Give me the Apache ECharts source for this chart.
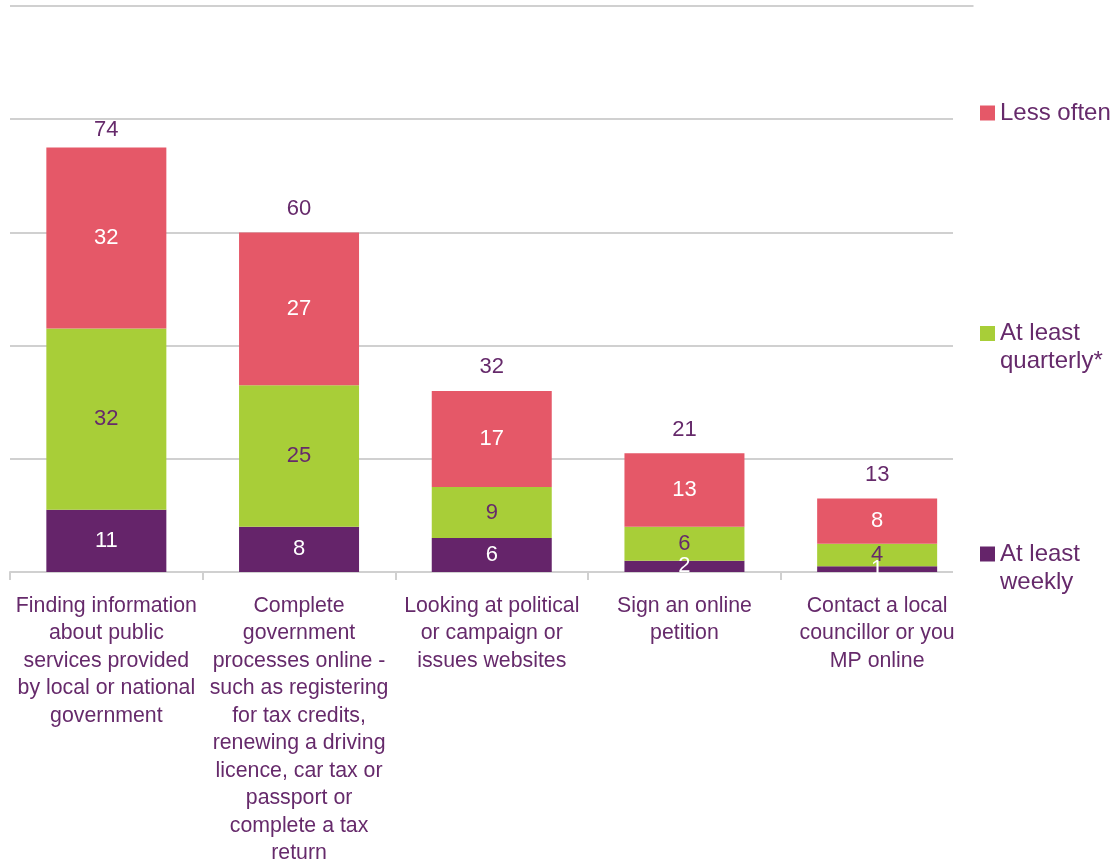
<!DOCTYPE html>
<html>
<head>
<meta charset="utf-8">
<script src="https://cdn.jsdelivr.net/npm/echarts@6/dist/echarts.min.js"></script>
<style>
  html, body { margin: 0; padding: 0; background: #ffffff; }
  #chart { width: 1119px; height: 863px; }
</style>
</head>
<body>
<div id="chart"></div>
<script>
// Online government activities, share of respondents by frequency (%)
const categories = [
  'Finding information\nabout public\nservices provided\nby local or national\ngovernment',
  'Complete\ngovernment\nprocesses online -\nsuch as registering\nfor tax credits,\nrenewing a driving\nlicence, car tax or\npassport or\ncomplete a tax\nreturn',
  'Looking at political\nor campaign or\nissues websites',
  'Sign an online\npetition',
  'Contact a local\ncouncillor or you\nMP online'
];
const seriesNames = ['At least weekly', 'At least quarterly*', 'Less often'];
const weekly = [11, 8, 6, 2, 1];
const quarterly = [32, 25, 9, 6, 4];
const lessOften = [32, 27, 17, 13, 8];
const totals = [74, 60, 32, 21, 13];
// Legend text: the blank first line keeps each swatch level with the first text line
const legendLines = {
  'Less often': ' \nLess often\n ',
  'At least quarterly*': ' \nAt least\nquarterly*',
  'At least weekly': ' \nAt least\nweekly'
};

const PURPLE = '#65246a';
const GREEN = '#a8ce38';
const RED = '#e55868';
const TEXT = '#662a6b';
const GRID = '#d0d0d0';
const FONT = '"Liberation Sans", Arial, sans-serif';

const chart = echarts.init(document.getElementById('chart'), null, { renderer: 'canvas' });

function segment(name, values, color, labelColor) {
  return {
    name: name,
    type: 'bar',
    stack: 'freq',
    data: values,
    barWidth: 120,
    itemStyle: { color: color },
    label: {
      show: true,
      position: 'inside',
      color: labelColor,
      fontSize: 22,
      fontFamily: FONT
    },
    silent: true
  };
}

chart.setOption({
  animation: false,
  backgroundColor: '#ffffff',
  textStyle: { fontFamily: FONT },
  grid: {
    left: 10, right: 145.5, top: 6, bottom: 291,
    containLabel: false,
    outerBoundsMode: 'none'
  },
  xAxis: {
    type: 'category',
    data: categories,
    boundaryGap: true,
    axisLine: { show: true, lineStyle: { color: GRID, width: 2 } },
    axisTick: { show: true, length: 8, lineStyle: { color: GRID, width: 2 } },
    axisLabel: {
      interval: 0,
      hideOverlap: false,
      margin: 20,
      color: TEXT,
      fontSize: 21.3,
      lineHeight: 27.5,
      align: 'center',
      fontFamily: FONT
    },
    splitLine: { show: false }
  },
  yAxis: {
    type: 'value',
    min: 0,
    max: 100,
    interval: 20,
    axisLine: { show: false },
    axisTick: { show: false },
    axisLabel: { show: false },
    splitLine: { show: true, lineStyle: { color: GRID, width: 2 } }
  },
  legend: {
    orient: 'vertical',
    left: 953,
    top: 71,
    padding: [0, 0, 0, 27],
    itemGap: 136.5,
    itemWidth: 15,
    itemHeight: 15,
    icon: 'rect',
    selectedMode: false,
    backgroundColor: '#ffffff',
    data: ['Less often', 'At least quarterly*', 'At least weekly'],
    formatter: function (name) { return legendLines[name]; },
    textStyle: {
      color: TEXT,
      fontSize: 24,
      lineHeight: 28,
      fontFamily: FONT
    }
  },
  series: [
    segment(seriesNames[0], weekly, PURPLE, '#ffffff'),
    segment(seriesNames[1], quarterly, GREEN, TEXT),
    segment(seriesNames[2], lessOften, RED, '#ffffff'),
    {
      name: 'Total',
      type: 'scatter',
      data: totals,
      symbolSize: 1,
      itemStyle: { color: 'rgba(0,0,0,0)', opacity: 1 },
      label: {
        show: true,
        position: 'top',
        distance: 12,
        color: TEXT,
        fontSize: 22,
        fontFamily: FONT
      },
      emphasis: { disabled: true },
      z: 5,
      silent: true
    }
  ]
});
</script>
</body>
</html>
